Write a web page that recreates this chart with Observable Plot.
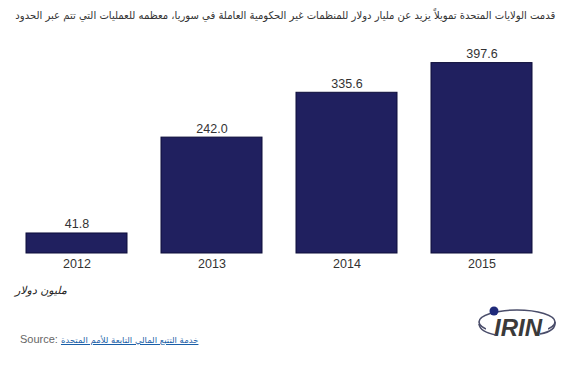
<!DOCTYPE html>
<html><head><meta charset="utf-8">
<script src="https://cdn.jsdelivr.net/npm/d3@7"></script>
<script src="https://cdn.jsdelivr.net/npm/@observablehq/plot@0.6"></script>
<style>
body{margin:0;background:#fff;font-family:"Liberation Sans","DejaVu Sans",Arial,sans-serif;}
#wrap{position:relative;width:570px;height:379px;overflow:hidden;}
#title{position:absolute;top:9px;right:15px;direction:rtl;font-size:10.5px;color:#333;white-space:nowrap;font-family:"DejaVu Sans",sans-serif;transform-origin:right top;display:inline-block;}
#chart{position:absolute;top:0;left:0;}
#unit{position:absolute;top:284px;left:15px;font-size:11px;font-style:italic;color:#222;font-family:"DejaVu Sans",sans-serif;}
#source{position:absolute;top:333px;left:20px;font-size:11px;color:#666;white-space:nowrap;}
#source a{color:#1a5fa8;text-decoration:underline;font-family:"DejaVu Sans",sans-serif;font-size:8.5px;}
#logo{position:absolute;left:476px;top:302px;}
</style></head>
<body><div id="wrap">
<div id="title"></div>
<div id="chart"></div>
<div id="unit"></div>
<div id="source">Source: <a href="#" id="srclink"></a></div>
<svg id="logo" width="84" height="48" viewBox="0 0 84 48">
  <ellipse cx="41" cy="20" rx="38" ry="12" fill="none" stroke="#4a4d6a" stroke-width="1.6"/>
  <rect x="10" y="14" width="62" height="20" fill="#fff"/>
  <text x="42" y="34" text-anchor="middle" font-family="Liberation Sans, Arial, sans-serif" font-style="italic" font-weight="bold" font-size="24" fill="#3a3a3a">IRIN</text>
  <path d="M3,22 Q4,30 20,33" fill="none" stroke="#4a4d6a" stroke-width="1.6"/>
  <path d="M64,32 Q80,29 79,20" fill="none" stroke="#4a4d6a" stroke-width="1.6"/>
  <circle cx="18" cy="9" r="4.5" fill="#1f2a7a"/>
</svg>
</div>
<script>
const years = ["2012","2013","2014","2015"];
const values = [41.8, 242.0, 335.6, 397.6];
const labels = ["41.8","242.0","335.6","397.6"];
const titleText = "قدمت الولايات المتحدة تمويلاً يزيد عن مليار دولار للمنظمات غير الحكومية العاملة في سوريا، معظمه للعمليات التي تتم عبر الحدود";
const unitText = "مليون دولار";
const sourceText = "خدمة التتبع المالي التابعة للأمم المتحدة";

const titleEl = document.getElementById("title");
titleEl.textContent = titleText;
const tw = titleEl.getBoundingClientRect().width;
if (tw > 540) titleEl.style.transform = `scaleX(${540 / tw})`;
document.getElementById("unit").textContent = unitText;
document.getElementById("srclink").textContent = sourceText;

const data = years.map((y,i)=>({year:y, value:values[i], label:labels[i]}));

const chart = Plot.plot({
  width: 570,
  height: 280,
  marginLeft: 9,
  marginRight: 20,
  marginTop: 37.5,
  marginBottom: 27,
  style: {fontFamily: "Liberation Sans, Arial, sans-serif", background: "transparent"},
  x: {domain: years, paddingInner: 0.25, paddingOuter: 0.125, label: null, tickSize: 0, tickPadding: 8},
  y: {domain: [0, 450], axis: null},
  marks: [
    Plot.barY(data, {x: "year", y: "value", fill: "#20205f", stroke: "#0d0d3a", strokeWidth: 1}),
    Plot.text(data, {x: "year", y: "value", text: "label", dy: -9, fontSize: 12.5, fill: "#333"}),
    Plot.axisX({tickSize: 0, tickPadding: 6, fontSize: 12.5, color: "#333", label: null})
  ]
});
document.getElementById("chart").appendChild(chart);
</script>
</body></html>
